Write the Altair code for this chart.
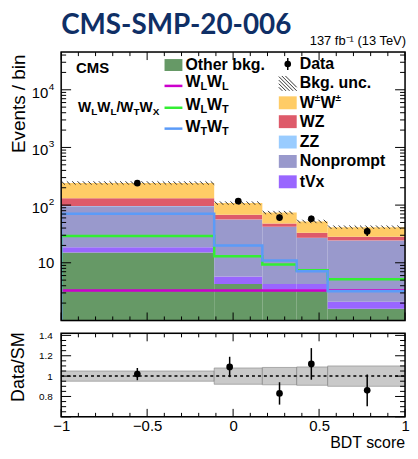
import altair as alt
import pandas as pd
import numpy as np

# ---------------- data ----------------
edges = [-1.0, -0.11, 0.17, 0.37, 0.55, 1.0]
other_bkg = [15.0, 4.3, 3.4, 3.4, 1.6]
tvx = [3.5, 1.5, 0.9, 0.9, 0.5]
nonprompt = [77.5, 50.0, 37.5, 22.5, 22.0]
zz = [0.8, 0.5, 0.4, 0.3, 0.3]
wz = [35.0, 12.0, 6.0, 6.0, 4.0]
wpmwpm = [110.0, 40.0, 26.0, 19.0, 13.0]

wlwl = [3.3, 3.3, 3.3, 3.3, 3.3]
wlwt = [29.0, 13.0, 9.3, 7.4, 5.2]
wtwt = [71.0, 20.0, 11.0, 7.1, 3.2]

data_x = [-0.557, 0.03, 0.27, 0.455, 0.78]
data_y = [240.0, 117.0, 61.0, 58.0, 35.0]
data_err = [15.0, 11.0, 8.0, 7.5, 6.0]

ratio_x = [-0.557, -0.02, 0.27, 0.455, 0.78]
ratio_y = [1.02, 1.09, 0.83, 1.12, 0.86]
ratio_err = [0.06, 0.10, 0.11, 0.155, 0.155]
ratio_unc = [0.05, 0.08, 0.085, 0.09, 0.10]

# ---------------- styling ----------------
W, H1, H2 = 346, 270, 84
FONT = "Liberation Sans"
C_OTHER, C_TVX, C_NP, C_ZZ, C_WZ, C_WW = "#669966", "#9966ff", "#9999cc", "#99ccff", "#de5a6a", "#ffcc66"
C_WLWL, C_WLWT, C_WTWT = "#cc00cc", "#33ee33", "#5b9bf8"

xs = alt.Scale(domain=[-1, 1], nice=False, zero=False)
ys1 = alt.Scale(type="log", domain=[1, 45000], nice=False)
ys2 = alt.Scale(domain=[0.6, 1.42], nice=False, zero=False)

one = pd.DataFrame({"a": [0]})

# ---------------- main panel ----------------
comps = [(other_bkg, C_OTHER), (tvx, C_TVX), (nonprompt, C_NP), (zz, C_ZZ), (wz, C_WZ), (wpmwpm, C_WW)]
stack_rows = []
tops = []
for b in range(5):
    cum = 0.0
    for vals, col in comps:
        lo = cum
        cum += vals[b]
        stack_rows.append({"x": edges[b], "x2": edges[b + 1], "y": max(lo, 1.0), "y2": cum, "c": col})
    tops.append(cum)
stack_df = pd.DataFrame(stack_rows)

stack = alt.Chart(stack_df).mark_rect(strokeWidth=0).encode(
    x=alt.X("x:Q", scale=xs, axis=None), x2="x2:Q",
    y=alt.Y("y:Q", scale=ys1, axis=None), y2="y2:Q",
    color=alt.Color("c:N", scale=None),
)

# hatch marks for the background uncertainty on top of the stack
hatch_rows = []
for b in range(5):
    for xv in np.arange(edges[b] + 0.012, edges[b + 1] - 0.005, 0.031):
        hatch_rows.append({"x": xv, "y": tops[b]})
hatch = alt.Chart(pd.DataFrame(hatch_rows)).mark_point(
    shape="M-1,-1L1,1", size=12, strokeWidth=1, color="#333333", filled=False, opacity=1
).encode(x=alt.X("x:Q", scale=xs, axis=None), y=alt.Y("y:Q", scale=ys1, axis=None))

line_rows = []
for name, vals, col in [("WLWL", wlwl, C_WLWL), ("WLWT", wlwt, C_WLWT), ("WTWT", wtwt, C_WTWT)]:
    pts = [(edges[0], 1.0)] + [(edges[i], vals[i]) for i in range(5)] + [(edges[5], vals[4])]
    for i, (xv, yv) in enumerate(pts):
        line_rows.append({"s": name, "i": i, "x": xv, "y": yv, "c": col})
lines = alt.Chart(pd.DataFrame(line_rows)).mark_line(interpolate="step-after", strokeWidth=2.5, clip=True).encode(
    x=alt.X("x:Q", scale=xs, axis=None), y=alt.Y("y:Q", scale=ys1, axis=None),
    color=alt.Color("c:N", scale=None), detail="s:N", order="i:Q",
)

dat = pd.DataFrame({"x": data_x, "y": data_y,
                    "lo": [v - e for v, e in zip(data_y, data_err)],
                    "hi": [v + e for v, e in zip(data_y, data_err)]})
dat_err = alt.Chart(dat).mark_rule(color="black", strokeWidth=1.5).encode(
    x=alt.X("x:Q", scale=xs, axis=None), y=alt.Y("lo:Q", scale=ys1, axis=None), y2="hi:Q")
dat_pts = alt.Chart(dat).mark_circle(color="black", size=45, opacity=1).encode(
    x=alt.X("x:Q", scale=xs, axis=None), y=alt.Y("y:Q", scale=ys1, axis=None))


def x_ticks(H, axis):
    maj = [-1.0, -0.5, 0.0, 0.5, 1.0]
    mnr = [round(v, 2) for v in np.arange(-0.9, 0.95, 0.1) if min(abs(v - m) for m in maj) > 1e-6]
    out = []
    for vals, L in [(maj, 8), (mnr, 4)]:
        base = alt.Chart(pd.DataFrame({"v": vals})).mark_rule(color="black", strokeWidth=1)
        out.append(base.encode(x=alt.X("v:Q", scale=xs, axis=axis), y=alt.value(H), y2=alt.value(H - L)))
        out.append(base.encode(x=alt.X("v:Q", scale=xs, axis=axis), y=alt.value(0), y2=alt.value(L)))
    return out


def y_ticks(maj, mnr, scale, axis, Lmaj, Lmin):
    out = []
    for vals, L in [(maj, Lmaj), (mnr, Lmin)]:
        base = alt.Chart(pd.DataFrame({"v": vals})).mark_rule(color="black", strokeWidth=1)
        out.append(base.encode(y=alt.Y("v:Q", scale=scale, axis=axis), x=alt.value(0), x2=alt.value(L)))
        out.append(base.encode(y=alt.Y("v:Q", scale=scale, axis=axis), x=alt.value(W), x2=alt.value(W - L)))
    return out


log_major = [10.0, 100.0, 1000.0, 10000.0]
log_minor = [m * 10.0 ** k for k in range(0, 5) for m in range(2, 10) if m * 10.0 ** k < 45000]

frame1 = alt.Chart(one).mark_rect(filled=False, stroke="black", strokeWidth=1.5).encode(
    x=alt.value(0), x2=alt.value(W), y=alt.value(0), y2=alt.value(H1))

# y labels of the main panel: 10, 10^2, 10^3, 10^4
ylab = pd.DataFrame({"v": log_major, "base": ["10", "10", "10", "10"], "exp": ["", "2", "3", "4"]})
ylab_plain = alt.Chart(ylab[ylab["exp"] == ""]).mark_text(align="right", baseline="middle", font=FONT, fontSize=15).encode(
    y=alt.Y("v:Q", scale=ys1, axis=None), x=alt.value(-7), text="base:N")
ylab_base = alt.Chart(ylab[ylab["exp"] != ""]).mark_text(align="right", baseline="middle", font=FONT, fontSize=15, dy=3).encode(
    y=alt.Y("v:Q", scale=ys1, axis=None), x=alt.value(-13), text="base:N")
ylab_exp = alt.Chart(ylab[ylab["exp"] != ""]).mark_text(align="right", baseline="middle", font=FONT, fontSize=10, dy=-3).encode(
    y=alt.Y("v:Q", scale=ys1, axis=None), x=alt.value(-7), text="exp:N")

ytitle1 = alt.Chart(one).mark_text(angle=270, align="center", baseline="middle", font=FONT, fontSize=19).encode(
    x=alt.value(-42.5), y=alt.value(52), text=alt.value("Events / bin"))
title_main = alt.Chart(one).mark_text(align="left", baseline="top", font="Lato", fontWeight="bold",
                                      fontSize=28, color="#0f2f66").encode(
    x=alt.value(0), y=alt.value(-40), text=alt.value("CMS-SMP-20-006"))
lumi = alt.Chart(one).mark_text(align="right", baseline="middle", font=FONT, fontSize=13).encode(
    x=alt.value(W + 1), y=alt.value(-11), text=alt.value("137 fb\u207b\u00b9 (13 TeV)"))

# ---------------- legend ----------------
BW = {"W": 0.944, "L": 0.611, "T": 0.611, "X": 0.667, "/": 0.278, "\u00b1": 0.584}


def seg_rows(segs, x0, yc):
    rows = []
    x = x0
    for t, fs, dy in segs:
        rows.append({"t": t, "x": x, "y": yc + dy, "fs": fs})
        x += sum(BW.get(ch, 0.6) for ch in t) * fs
    return rows


c1_text_x, c2_text_x = 125, 240
c2_y = [12, 31, 51, 70, 90.5, 110, 130.5]
txt_rows = []
txt_rows += [{"t": "CMS", "x": 15, "y": 16, "fs": 15}]
txt_rows += seg_rows([("W", 14, 0), ("L", 10, 4), ("W", 14, 0), ("L", 10, 4), ("/", 14, 0),
                      ("W", 14, 0), ("T", 10, 4), ("W", 14, 0), ("X", 10, 4)], 17, 56)
txt_rows += [{"t": "Other bkg.", "x": c1_text_x, "y": 13, "fs": 16}]
for (a, b), yc in zip([("L", "L"), ("L", "T"), ("T", "T")], [30.5, 53, 75]):
    txt_rows += seg_rows([("W", 16, 0), (a, 11, 5), ("W", 16, 0), (b, 11, 5)], c1_text_x, yc)
txt_rows += [{"t": "Data", "x": c2_text_x, "y": c2_y[0], "fs": 16},
             {"t": "Bkg. unc.", "x": c2_text_x, "y": c2_y[1], "fs": 16}]
txt_rows += seg_rows([("W", 16, 0), ("\u00b1", 10, -5), ("W", 16, 0), ("\u00b1", 10, -5)], c2_text_x, c2_y[2])
for t, yc in zip(["WZ", "ZZ", "Nonprompt", "tVx"], c2_y[3:]):
    txt_rows.append({"t": t, "x": c2_text_x, "y": yc, "fs": 16})
leg_text = alt.Chart(pd.DataFrame(txt_rows)).mark_text(align="left", baseline="middle", font=FONT, fontWeight="bold").encode(
    x=alt.X("x:Q", scale=None, axis=None), y=alt.Y("y:Q", scale=None, axis=None),
    size=alt.Size("fs:Q", scale=None, legend=None), text="t:N")

box_rows = [{"x": 104, "x2": 122, "y": 7, "y2": 19, "c": C_OTHER}]
for col, yc in zip([C_WW, C_WZ, C_ZZ, C_NP, C_TVX], c2_y[2:]):
    box_rows.append({"x": 219, "x2": 237, "y": yc - 6.5, "y2": yc + 6.5, "c": col})
leg_box = alt.Chart(pd.DataFrame(box_rows)).mark_rect().encode(
    x=alt.X("x:Q", scale=None, axis=None), x2="x2:Q", y=alt.Y("y:Q", scale=None, axis=None), y2="y2:Q",
    color=alt.Color("c:N", scale=None))

seg = [{"x": 104, "x2": 122, "y": yc, "y2": yc, "c": c, "w": 2.5}
       for c, yc in zip([C_WLWL, C_WLWT, C_WTWT], [34, 56, 77])]
seg.append({"x": 228, "x2": 228, "y": 6, "y2": 18, "c": "black", "w": 1.5})
# hatched box for Bkg. unc.
hx0, hx1, hy0, hy1 = 219.0, 237.0, 24.0, 39.0
hh = hy1 - hy0
for i in range(-5, 7):
    xa = hx0 + 3.6 * i - hh
    s0, s1 = max(xa, hx0), min(xa + hh, hx1)
    if s1 - s0 > 0.5:
        seg.append({"x": s0, "x2": s1, "y": hy0 + (s0 - xa), "y2": hy0 + (s1 - xa), "c": "#333333", "w": 1})
leg_seg = alt.Chart(pd.DataFrame(seg)).mark_rule().encode(
    x=alt.X("x:Q", scale=None, axis=None), x2="x2:Q", y=alt.Y("y:Q", scale=None, axis=None), y2="y2:Q",
    color=alt.Color("c:N", scale=None), strokeWidth=alt.StrokeWidth("w:Q", scale=None, legend=None))
leg_pt = alt.Chart(one).mark_circle(color="black", size=45, opacity=1).encode(x=alt.value(228), y=alt.value(12))

top = alt.layer(
    stack, hatch, lines, dat_err, dat_pts,
    *x_ticks(H1, None), *y_ticks(log_major, log_minor, ys1, None, 10, 5),
    frame1, ylab_plain, ylab_base, ylab_exp, ytitle1, title_main, lumi,
    leg_box, leg_seg, leg_pt, leg_text,
).properties(width=W, height=H1)

# ---------------- ratio panel ----------------
x_axis2 = alt.Axis(values=[-1, -0.5, 0, 0.5, 1], format="~g", labelFontSize=15, labelFont=FONT, labelColor="black",
                   ticks=False, domain=False, grid=False, labelPadding=2, labelFlush=False, labelOverlap=False, title=None)
y_axis2 = alt.Axis(values=[0.8, 1.0, 1.2, 1.4], format="~g", labelFontSize=10, labelFont=FONT, labelColor="black",
                   ticks=False, domain=False, grid=False, labelPadding=9, labelOverlap=False, title=None)

band = pd.DataFrame({"x": edges[:-1], "x2": edges[1:],
                     "lo": [1 - u for u in ratio_unc], "hi": [1 + u for u in ratio_unc]})
band_m = alt.Chart(band).mark_rect(fill="#c4c4c4", stroke="#777777", strokeWidth=0.6, opacity=0.9).encode(
    x=alt.X("x:Q", scale=xs, axis=x_axis2), x2="x2:Q", y=alt.Y("lo:Q", scale=ys2, axis=y_axis2), y2="hi:Q")
unity = alt.Chart(pd.DataFrame({"v": [1.0]})).mark_rule(color="black", strokeWidth=1.5, strokeDash=[3, 3]).encode(
    y=alt.Y("v:Q", scale=ys2, axis=y_axis2), x=alt.value(0), x2=alt.value(W))
rat = pd.DataFrame({"x": ratio_x, "y": ratio_y,
                    "lo": [v - e for v, e in zip(ratio_y, ratio_err)],
                    "hi": [v + e for v, e in zip(ratio_y, ratio_err)]})
rat_err = alt.Chart(rat).mark_rule(color="black", strokeWidth=1.5).encode(
    x=alt.X("x:Q", scale=xs, axis=x_axis2), y=alt.Y("lo:Q", scale=ys2, axis=y_axis2), y2="hi:Q")
rat_pts = alt.Chart(rat).mark_circle(color="black", size=45, opacity=1).encode(
    x=alt.X("x:Q", scale=xs, axis=x_axis2), y=alt.Y("y:Q", scale=ys2, axis=y_axis2))

r_major = [0.6, 0.8, 1.0, 1.2, 1.4]
r_minor = [round(v, 2) for v in np.arange(0.65, 1.42, 0.05) if min(abs(v - m) for m in r_major) > 1e-6]
frame2 = alt.Chart(one).mark_rect(filled=False, stroke="black", strokeWidth=1.5).encode(
    x=alt.value(0), x2=alt.value(W), y=alt.value(0), y2=alt.value(H2))
ytitle2 = alt.Chart(one).mark_text(angle=270, align="center", baseline="middle", font=FONT, fontSize=18).encode(
    x=alt.value(-42), y=alt.value(34), text=alt.value("Data/SM"))
xtitle2 = alt.Chart(one).mark_text(align="right", baseline="middle", font=FONT, fontSize=16).encode(
    x=alt.value(W), y=alt.value(H2 + 26), text=alt.value("BDT score"))

bottom = alt.layer(
    band_m, unity, rat_err, rat_pts,
    *x_ticks(H2, x_axis2), *y_ticks(r_major, r_minor, ys2, y_axis2, 10, 5),
    frame2, ytitle2, xtitle2,
).properties(width=W, height=H2)

chart = alt.vconcat(top, bottom, spacing=7).properties(
    padding={"left": 1.5, "top": 2, "right": 0, "bottom": 0}
).configure_view(strokeWidth=0).configure(font=FONT)

chart.save("out.html", embed_options={"renderer": "svg", "actions": False})
